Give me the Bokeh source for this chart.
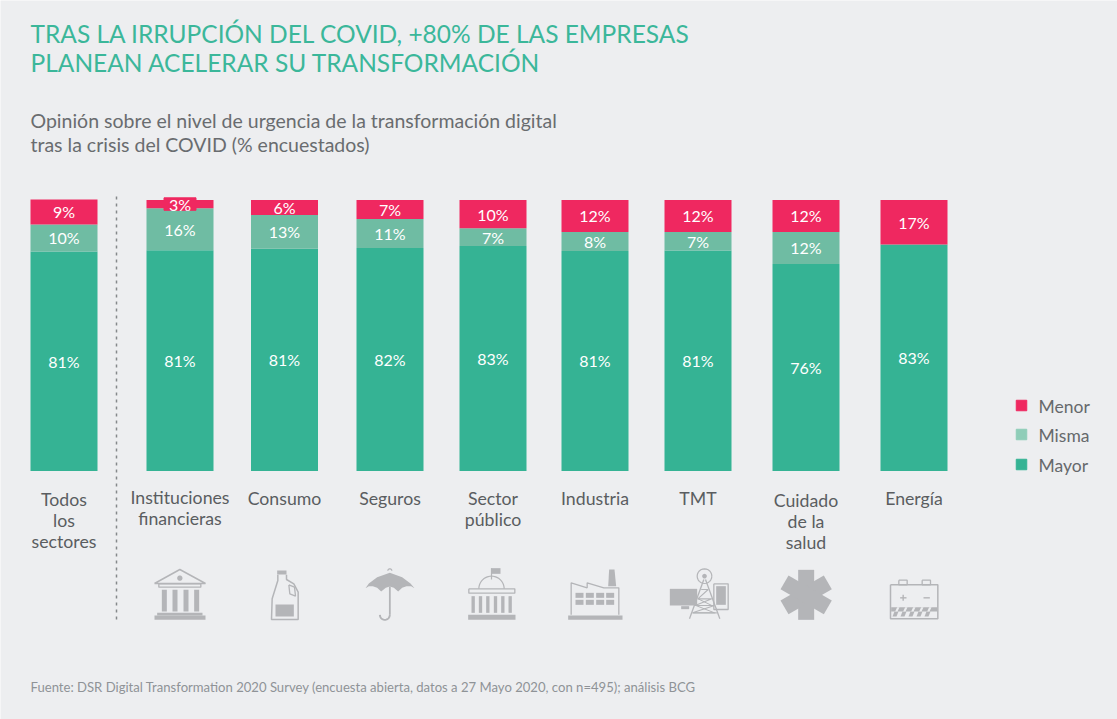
import math
from bokeh.plotting import figure
from bokeh.models import ColumnDataSource, Range1d
from bokeh.core.properties import value
from bokeh.embed import file_html
from bokeh.resources import INLINE

# ---------- data ----------
categories = ["Todos\nlos\nsectores", "Instituciones\nfinancieras", "Consumo", "Seguros",
              "Sector\npúblico", "Industria", "TMT", "Cuidado\nde la\nsalud", "Energía"]
mayor = [81.0, 81.5, 82.0, 82.3, 83.0, 81.2, 81.4, 76.4, 83.6]
misma = [10.0, 15.5, 12.5, 10.7, 6.6, 7.0, 6.8, 11.8, 0.0]
menor = [9.2, 3.0, 5.5, 7.0, 10.4, 11.8, 11.8, 11.8, 16.4]
mayor_labels = ["81%", "81%", "81%", "82%", "83%", "81%", "81%", "76%", "83%"]
misma_labels = ["10%", "16%", "13%", "11%", "7%", "8%", "7%", "12%", ""]
menor_labels = ["9%", "3%", "6%", "7%", "10%", "12%", "12%", "12%", "17%"]
series_names = ["Menor", "Misma", "Mayor"]
title_lines = ["TRAS LA IRRUPCIÓN DEL COVID, +80% DE LAS EMPRESAS", "PLANEAN ACELERAR SU TRANSFORMACIÓN"]
subtitle_lines = ["Opinión sobre el nivel de urgencia de la transformación digital",
                  "tras la crisis del COVID (% encuestados)"]
source_note = "Fuente: DSR Digital Transformation 2020 Survey (encuesta abierta, datos a 27 Mayo 2020, con n=495); análisis BCG"

# ---------- layout / style ----------
W, H = 1117, 719
BG = "#EDEEF0"
GREEN, LIGHT, PINK = "#35B394", "#6FBCA3", "#EF2860"
SWATCH = {"Menor": "#EF2860", "Misma": "#8FCDB8", "Mayor": "#35B394"}
ICON = "#B4B5B8"
FONT = value("Lato")
bar_x = [63.5, 179.5, 284, 389.5, 492.5, 594.5, 697.5, 805.5, 913.5]
cat_y = [488, 486, 487, 487, 487, 487, 487, 489, 487]
ZERO_PX, PX_PER = 470.5, 2.71

p = figure(width=W, height=H, output_backend="svg", toolbar_location=None,
           x_range=Range1d(0, W),
           y_range=Range1d((ZERO_PX - H) / PX_PER, ZERO_PX / PX_PER),
           min_border=0, background_fill_color=BG, border_fill_color=BG, outline_line_color=None)
p.extra_y_ranges = {"px": Range1d(H, 0)}
p.axis.visible = False
p.grid.visible = False

src = ColumnDataSource(dict(x=bar_x, Mayor=mayor, Misma=misma, Menor=menor))
p.vbar_stack(["Mayor", "Misma", "Menor"], x="x", width=67, source=src,
             color=[GREEN, LIGHT, PINK], line_color=None)

# halo behind the small 3% label
p.rect(x=[bar_x[1]], y=[mayor[1] + misma[1] + menor[1] / 2], width=32, height=4.6, color=PINK)

# value labels in the middle of their segments
lx, ly, lt = [], [], []
for i, x in enumerate(bar_x):
    a, b, c = mayor[i], misma[i], menor[i]
    for txt, mid in ((mayor_labels[i], a / 2), (misma_labels[i], a + b / 2), (menor_labels[i], a + b + c / 2)):
        if txt:
            lx.append(x); ly.append(mid); lt.append(txt)
p.text(x=lx, y=ly, text=lt, text_color="white", text_font=FONT, text_font_size="16px",
       text_align="center", text_baseline="middle")


def T(x, y, t, size, color, align="left", baseline="middle"):
    p.text(x=[x], y=[y], text=[t], text_color=color, text_font=FONT, text_font_size=size,
           text_align=align, text_baseline=baseline, y_range_name="px")


for y, t in zip((33, 62), title_lines):
    T(30, y, t, "24.5px", "#3BB79A")
for y, t in zip((120, 144), subtitle_lines):
    T(30, y, t, "19.5px", "#696C6F")
T(30, 686, source_note, "13.1px", "#8F9397")

# category labels
p.text(x=bar_x, y=cat_y, text=categories, text_color="#5A5D60", text_font=FONT, text_font_size="17.7px",
       text_align="center", text_baseline="top", text_line_height=1.02, y_range_name="px")

# separator
p.line([116, 116], [196, 620], line_color="#85888B", line_width=1.5, line_dash="3 4", y_range_name="px")

# legend
for y, name in zip((405, 434, 464), series_names):
    p.rect(x=[1021], y=[y], width=10.5, height=10.5, color=SWATCH[name], y_range_name="px",
           height_units="data", width_units="data")
    T(1038, y + 1, name, "17.5px", "#66696C")


# ---------- icons (drawn in a zoomed local frame: 3 units = 1 px) ----------
def tx(o, v):
    return [o + a / 3 for a in v]


def fill(ox, oy, xs, ys, color=ICON):
    p.patch(tx(ox, xs), tx(oy, ys), fill_color=color, line_color=None, y_range_name="px")


def box(ox, oy, x0, x1, y0, y1):
    fill(ox, oy, [x0, x1, x1, x0], [y0, y0, y1, y1])


def stroke(ox, oy, xs, ys, w=1.3):
    p.line(tx(ox, xs), tx(oy, ys), line_color=ICON, line_width=w, y_range_name="px")


def arc(cx, cy, r, a0, a1, n=24):
    angles = [math.radians(a0 + (a1 - a0) * i / n) for i in range(n + 1)]
    return [cx + r * math.cos(a) for a in angles], [cy - r * math.sin(a) for a in angles]


def rect_line(ox, oy, x0, x1, y0, y1, w=1.3):
    stroke(ox, oy, [x0, x1, x1, x0, x0], [y0, y0, y1, y1, y0], w)


ox, oy = 120, 555
# bank
stroke(ox, oy, [102, 178, 255, 102], [84, 42, 84, 84], 1.5)
fill(ox, oy, *arc(178, 68, 8, 0, 360))
rect_line(ox, oy, 115, 241, 85, 95)
for a in (124, 156, 189, 221):
    box(ox, oy, a, a + 15, 103, 168)
box(ox, oy, 110, 246, 172, 180)
box(ox, oy, 102, 255, 180, 193)
# bottle
box(ox, oy, 470, 498, 45, 57)
stroke(ox, oy, [472, 472, 455, 453, 533, 533, 520, 498, 498], [58, 75, 130, 192, 192, 110, 85, 72, 58], 1.5)
stroke(ox, oy, [505, 522, 525, 508, 505], [88, 95, 122, 115, 88], 1.3)
box(ox, oy, 465, 520, 147, 183)
# umbrella
fill(ox, oy, [735, 745, 770, 808, 845, 870, 882, 872, 858, 845, 833, 820, 808, 796, 782, 770, 757, 745],
     [98, 84, 65, 52, 65, 84, 98, 92, 92, 97, 108, 97, 93, 97, 108, 97, 92, 92])
stroke(ox, oy, [808, 808], [93, 178], 1.8)
hx, hy = arc(793, 178, 15, 0, -180)
stroke(ox, oy, hx, hy, 1.8)
kx, ky = arc(808, 46, 6, 0, 180)
stroke(ox, oy, kx, ky, 1.2)
# capitol
stroke(ox, oy, [1113, 1113], [38, 72], 1.2)
box(ox, oy, 1113, 1140, 38, 55)
dx, dy = arc(1113, 100, 38, 0, 180)
stroke(ox, oy, dx, dy, 1.2)
rect_line(ox, oy, 1045, 1183, 100, 113)
for a in (1053, 1075, 1097, 1120, 1142, 1164):
    box(ox, oy, a, a + 10, 122, 172)
box(ox, oy, 1043, 1185, 178, 193)

ox, oy = 540, 555
# factory
fill(ox, oy, [206, 222, 227, 203], [42, 42, 92, 92])
stroke(ox, oy, [92, 92, 140, 140, 190, 235, 235], [178, 82, 97, 82, 97, 97, 178], 1.3)
for a in (105, 136, 167, 197):
    box(ox, oy, a, a + 24, 112, 127)
    box(ox, oy, a, a + 24, 133, 148)
box(ox, oy, 83, 246, 180, 193)
# TMT
box(ox, oy, 388, 470, 100, 150)
box(ox, oy, 422, 446, 152, 161)
rect_line(ox, oy, 520, 563, 85, 162)
box(ox, oy, 527, 556, 92, 148)
stroke(ox, oy, [490, 447], [72, 190], 1.3)
stroke(ox, oy, [495, 538], [72, 190], 1.3)
stroke(ox, oy, [482, 503, 472, 514, 464, 522, 456, 529], [102, 102, 130, 130, 150, 150, 172, 172], 1.1)
stroke(ox, oy, [473, 514, 466, 522, 457], [130, 150, 150, 172, 172], 1.0)
rx, ry = arc(492, 62, 22, 0, 360)
stroke(ox, oy, rx, ry, 1.2)
fill(ox, oy, *arc(492, 62, 7, 0, 360))
# star of life
cx, cy, L, Wd = 797, 118, 75, 24
for ang in (90, 30, -30):
    c, s = math.cos(math.radians(ang)), math.sin(math.radians(ang))
    xs = [cx + u * c - v * s for u, v in ((-L, -Wd), (L, -Wd), (L, Wd), (-L, Wd))]
    ys = [cy - (u * s + v * c) for u, v in ((-L, -Wd), (L, -Wd), (L, Wd), (-L, Wd))]
    fill(ox, oy, xs, ys)
# battery
rect_line(ox, oy, 1050, 1192, 88, 190, 1.5)
rect_line(ox, oy, 1075, 1100, 74, 88)
rect_line(ox, oy, 1145, 1170, 74, 88)
stroke(ox, oy, [1079, 1098], [127, 127], 1.4)
stroke(ox, oy, [1088, 1088], [118, 136], 1.4)
stroke(ox, oy, [1149, 1168], [127, 127], 1.4)
box(ox, oy, 1052, 1190, 155, 168)
for a in (1062, 1086, 1110, 1134, 1158):
    fill(ox, oy, [a, a + 12, a + 6, a - 6], [168, 168, 183, 183])
for a in (1070, 1094, 1118, 1142, 1166):
    fill(ox, oy, [a, a + 7, a + 1, a - 6], [155, 155, 168, 168], BG)

open("out.html", "w").write(file_html(p, INLINE))
